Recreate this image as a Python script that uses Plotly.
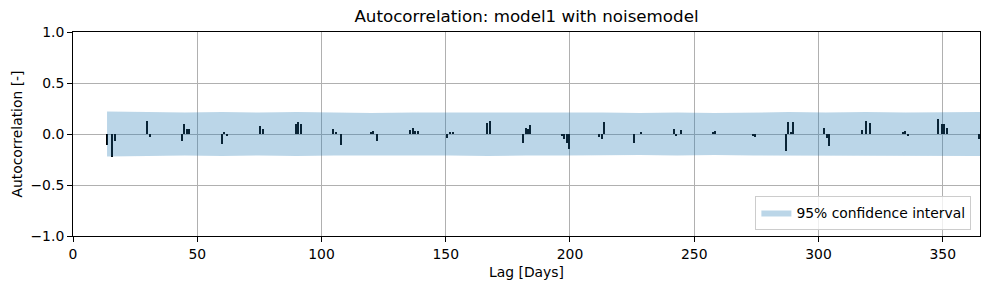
import plotly.graph_objects as go

# Lags (days) and autocorrelation values
lags = [13.7, 15.6, 16.9, 29.8, 31.0, 44.0, 44.8, 46.0, 46.8, 60.0, 61.0, 62.0,
        75.4, 76.7, 89.7, 90.7, 91.7, 104.6, 106.0, 107.8, 120.0, 121.0, 122.6,
        135.7, 137.0, 137.7, 139.0, 150.6, 151.8, 153.0, 166.8, 167.8,
        181.0, 182.3, 183.0, 184.0, 197.0, 197.8, 198.7, 199.5,
        211.7, 212.9, 213.7, 226.0, 228.7, 241.9, 242.7, 244.8,
        257.5, 258.6, 273.6, 274.6, 286.9, 288.0, 288.9, 290.0,
        302.3, 303.5, 304.3, 317.7, 319.4, 320.7, 334.0, 335.0, 336.0,
        348.3, 349.7, 350.5, 352.0, 364.5]
acf = [-0.11, -0.23, -0.07, 0.13, -0.03, -0.07, 0.10, 0.05, 0.05, -0.10, 0.02, -0.01,
       0.08, 0.05, 0.10, 0.12, 0.10, 0.05, 0.01, -0.11, 0.02, 0.03, -0.07,
       0.04, 0.06, 0.03, 0.03, -0.04, 0.01, 0.01, 0.11, 0.13,
       -0.09, 0.06, 0.05, 0.09, -0.01, -0.05, -0.09, -0.15,
       -0.03, -0.05, 0.12, -0.09, 0.02, 0.05, -0.01, 0.04,
       0.01, 0.03, -0.01, -0.03, -0.17, 0.12, 0.01, 0.12,
       0.06, -0.04, -0.12, 0.04, 0.13, 0.11, 0.02, 0.03, -0.01,
       0.15, 0.10, 0.10, 0.06, -0.05]

# 95% confidence bound at selected lags
conf_lags = [13.7, 20, 30, 45, 60, 75, 90, 105, 120, 137, 152, 167, 182, 198,
             213, 228, 243, 258, 274, 288, 303, 319, 335, 350, 365]
conf_vals = [0.22, 0.22, 0.215, 0.21, 0.215, 0.21, 0.215, 0.21, 0.205, 0.21,
             0.21, 0.215, 0.21, 0.21, 0.21, 0.205, 0.21, 0.205, 0.21, 0.215,
             0.21, 0.215, 0.21, 0.215, 0.215]

x_ticks = [0, 50, 100, 150, 200, 250, 300, 350]
y_ticks = [-1.0, -0.5, 0.0, 0.5, 1.0]

FONT = "DejaVu Sans"
BAND = "rgba(31,119,180,0.3)"
fig = go.Figure()

band_x = conf_lags + conf_lags[::-1]
band_y = conf_vals + [-v for v in conf_vals[::-1]]
fig.add_trace(go.Scatter(
    x=band_x, y=band_y, fill="toself", mode="lines",
    line=dict(width=0, color=BAND),
    fillcolor=BAND, name="95% confidence interval",
    hoverinfo="skip", showlegend=True))

fig.add_trace(go.Bar(x=lags, y=acf, width=0.6, marker=dict(color="black", line=dict(width=0)),
                     showlegend=False, name="acf"))

axis_common = dict(
    showline=True, linecolor="black", linewidth=1, mirror=True,
    ticks="outside", ticklen=5, tickcolor="black", tickwidth=1,
    showgrid=True, gridcolor="#b0b0b0", gridwidth=0.8, zeroline=False,
    tickfont=dict(family=FONT, size=13.9, color="black"),
)

fig.update_layout(
    width=989, height=290,
    margin=dict(l=73, r=9, t=32, b=54),
    paper_bgcolor="white", plot_bgcolor="white",
    font=dict(family=FONT, size=13.9, color="black"),
    title=dict(text="Autocorrelation: model1 with noisemodel", x=0.5,
               xref="paper", xanchor="center", y=1 - 16 / 290, yanchor="middle",
               font=dict(family=FONT, size=16.7, color="black")),
    bargap=0,
    legend=dict(x=0.9905, y=0.03, xanchor="right", yanchor="bottom",
                bgcolor="rgba(255,255,255,0.8)", bordercolor="#cccccc", borderwidth=1,
                font=dict(family=FONT, size=13.9, color="black")),
    showlegend=True,
)
fig.update_xaxes(range=[0, 365], tickvals=x_ticks, ticktext=[str(t) for t in x_ticks],
                 title=dict(text="Lag [Days]", standoff=6,
                            font=dict(family=FONT, size=13.9, color="black")),
                 **axis_common)
fig.update_yaxes(range=[-1, 1], tickvals=y_ticks, tickformat=".1f",
                 title=dict(text="Autocorrelation [-]", standoff=4,
                            font=dict(family=FONT, size=13.9, color="black")),
                 **axis_common)

fig.write_html("out.html")
